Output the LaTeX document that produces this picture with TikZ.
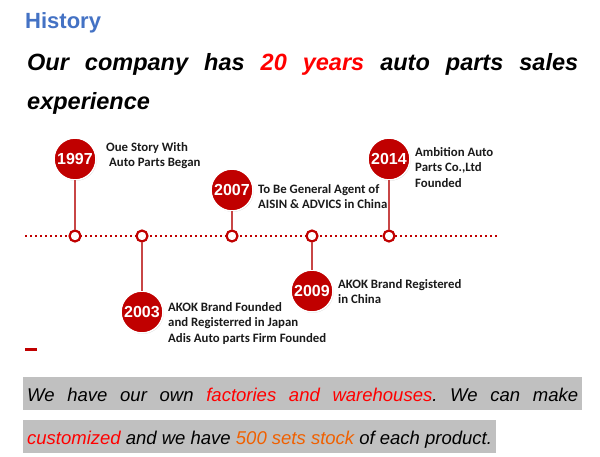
\documentclass[tikz,border=0pt]{standalone}
\usepackage{fontspec}
\usetikzlibrary{shadows}
\newfontfamily\arialfont{Liberation Sans}
\newfontfamily\calibrifont{Carlito}
\frenchspacing
\begin{document}
\begin{tikzpicture}[x=1pt,y=-1pt,line cap=rect,
	yearball/.style={circle, fill=custcol_c0_0_0, draw=white, line width=1.5pt, minimum size=42pt, inner sep=0, text=white,
		font=\arialfont\bfseries\fontsize{16pt}{16pt}\selectfont,
		drop shadow={opacity=0.3, shadow xshift=0.7pt, shadow yshift=-0.9pt}},
	ring/.style={circle, fill=white, draw=custcol_c0_0_0, line width=2.2pt, minimum size=11pt, inner sep=0},
	stem/.style={line width=1.2pt, custcol_c8_46_46},
	eventtext/.style={anchor=base west, inner sep=0, align=left, text=custcol_1a_1a_1a,
		font=\calibrifont\bfseries\fontsize{12.8pt}{15.5pt}\selectfont},
	hlbox/.style={anchor=base west, fill=custcol_c0_c0_c0, inner xsep=4pt, inner ysep=0, text height=24pt, text depth=9pt,
		font=\arialfont\itshape\fontsize{18.5pt}{18.5pt}\selectfont}]
	\useasboundingbox (0,0) rectangle (600,456);
	\definecolor{custcol_c0_0_0}{RGB}{192, 0, 0}
	\definecolor{custcol_c8_46_46}{RGB}{200, 70, 70}
	\definecolor{custcol_44_72_c4}{RGB}{68, 114, 196}
	\definecolor{custcol_ff_0_0}{RGB}{255, 0, 0}
	\definecolor{custcol_f0_60_0}{RGB}{240, 96, 0}
	\definecolor{custcol_c0_c0_c0}{RGB}{192, 192, 192}
	\definecolor{custcol_1a_1a_1a}{RGB}{26, 26, 26}
	% heading
	\node[anchor=base west, inner sep=0, text=custcol_44_72_c4, font=\arialfont\bfseries\fontsize{22pt}{22pt}\selectfont] (history) at (25.0,28.0) {History};
	\node[anchor=base west, inner sep=0, font=\arialfont\bfseries\itshape\fontsize{23.5pt}{23.5pt}\selectfont] (intro1) at (27.0,70.0)
		{\makebox[551pt][s]{Our company has \textcolor{custcol_ff_0_0}{20 years} auto parts sales}};
	\node[anchor=base west, inner sep=0, font=\arialfont\bfseries\itshape\fontsize{23.5pt}{23.5pt}\selectfont] (intro2) at (27.0,109.0) {experience};
	% timeline
	\coordinate (tlstart) at (25.0,236.0);
	\coordinate (tlend) at (497.0,236.0);
	\draw [line width=2.0pt, custcol_c0_0_0, line cap=butt, dash pattern=on 2pt off 3pt] (tlstart) -- (tlend);
	\node[yearball] (y1997) at (75.0,159.0) {1997};
	\node[yearball] (y2003) at (142.0,312.0) {2003};
	\node[yearball] (y2007) at (232.0,190.0) {2007};
	\node[yearball] (y2009) at (312.0,291.0) {2009};
	\node[yearball] (y2014) at (389.0,159.0) {2014};
	\node[ring] (r1997) at (75.0,236.0) {};
	\node[ring] (r2003) at (142.0,236.0) {};
	\node[ring] (r2007) at (232.0,236.0) {};
	\node[ring] (r2009) at (312.0,236.0) {};
	\node[ring] (r2014) at (389.0,236.0) {};
	\draw [stem] (y1997) -- (r1997);
	\draw [stem] (y2003) -- (r2003);
	\draw [stem] (y2007) -- (r2007);
	\draw [stem] (y2009) -- (r2009);
	\draw [stem] (y2014) -- (r2014);
	% base of a multi-line node is its last line
	\node[eventtext] (t1997) at (106.0,166.5) {Oue Story With\\\hspace{3pt}Auto Parts Began};
	\node[eventtext] (t2007) at (258.0,208.5) {To Be General Agent of\\AISIN \& ADVICS in China};
	\node[eventtext] (t2014) at (415.0,187.0) {Ambition Auto\\Parts Co.,Ltd\\Founded};
	\node[eventtext] (t2009) at (338.0,303.5) {AKOK Brand Registered\\in China};
	\node[eventtext] (t2003) at (168.0,342.0) {AKOK Brand Founded\\and Registerred in Japan\\Adis Auto parts Firm Founded};
	\fill [custcol_c0_0_0] (25.0,348.0) rectangle (37.0,351.0);
	% bottom text
	\node[hlbox] (para1) at (23.0,401.0)
		{\makebox[551pt][s]{We have our own \textcolor{custcol_ff_0_0}{factories and warehouses}. We can make}};
	\node[hlbox] (para2) at (23.0,444.0)
		{\textcolor{custcol_ff_0_0}{customized} and we have \textcolor{custcol_f0_60_0}{500 sets stock} of each product.};
\end{tikzpicture}
\end{document}
